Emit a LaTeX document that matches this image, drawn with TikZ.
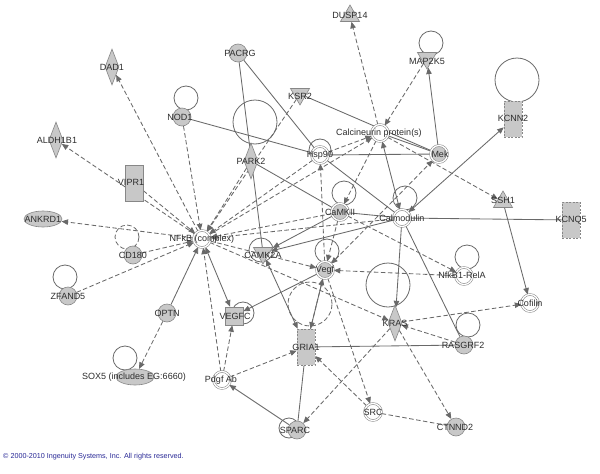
\documentclass[tikz,border=0pt]{standalone}
\usepackage{fontspec}
\setmainfont{Liberation Sans}
\usetikzlibrary{shapes.geometric,arrows.meta,backgrounds}
\definecolor{ngray}{RGB}{200,200,200}
\definecolor{bgray}{RGB}{135,135,135}
\definecolor{egray}{RGB}{105,105,105}
\definecolor{tgray}{RGB}{45,45,45}
\definecolor{cblue}{RGB}{40,40,150}
\begin{document}
\begin{tikzpicture}[x=1pt,y=-1pt,
  gfill/.style={fill=ngray,draw=bgray,line width=0.6pt,inner sep=0pt},
  circ/.style={gfill,circle,minimum size=18pt},
  dcirc/.style={circle,minimum size=17pt,inner sep=0pt,draw=bgray,line width=0.55pt,double=white,double distance=1.3pt,fill=white},
  gdcirc/.style={dcirc,fill=ngray},
  rectn/.style={gfill,rectangle,minimum width=18pt,minimum height=36pt},
  dashrect/.style={rectn,dash pattern=on 2pt off 1.5pt},
  dia/.style={gfill,diamond,minimum width=14pt,minimum height=36pt},
  tri/.style={gfill,regular polygon,regular polygon sides=3,minimum size=22pt},
  trid/.style={tri,shape border rotate=180},
  ell/.style={gfill,ellipse,minimum width=38pt,minimum height=16pt},
  lbl/.style={font=\fontsize{9}{10}\selectfont,text=tgray,inner sep=0pt},
  dedge/.style={draw=egray,line width=0.85pt},
  iedge/.style={dedge,dash pattern=on 4.5pt off 2.5pt},
  loopc/.style={draw=egray,line width=0.8pt},
  ah/.style={-{Triangle[length=6.5pt,width=5.5pt]}},
  ahb/.style={{Triangle[length=6.5pt,width=5.5pt]}-{Triangle[length=6.5pt,width=5.5pt]}},
]
\useasboundingbox (0,0) rectangle (600,474);

% ---- nodes ----
\node[tri] (dusp) at (350,16) {};
\node[trid] (mapk) at (427,58) {};
\node[dashrect] (kcnn) at (513,119) {};
\node[dashrect] (kcnq) at (571,220) {};
\node[tri] (ssh) at (503,202) {};
\node[dcirc] (cof) at (530,303) {};
\node[dia] (dad) at (112,67) {};
\node[dia] (aldh) at (56,140) {};
\node[circ] (pacrg) at (238,53) {};
\node[circ] (nod) at (182,117) {};
\node[trid] (ksr) at (300,94) {};
\node[dia] (park) at (251,161) {};
\node[rectn] (vipr) at (134,183) {};
\node[dcirc] (cal) at (380,133) {};
\node[dcirc] (hsp) at (320,155) {};
\node[gdcirc] (mek) at (439,154) {};
\node[gdcirc] (camk) at (340,212) {};
\node[dcirc] (cmod) at (402,218) {};
\node[dcirc] (nfkb) at (202,239) {};
\node[ell] (ankrd) at (43,219) {};
\node[circ] (cd) at (133,255) {};
\node[circ] (zf) at (68,296) {};
\node[trid] (camka) at (263,253) {};
\node[gdcirc] (vegf) at (325,270) {};
\node[dcirc] (rela) at (464,276) {};
\node[gfill,minimum size=18pt] (vegfc) at (234,316) {};
\node[circ] (optn) at (167,313) {};
\node[ell] (sox) at (135,377) {};
\node[dcirc] (pdgf) at (222,380) {};
\node[dashrect] (gria) at (306,347) {};
\node[dia] (kras) at (395,323) {};
\node[circ] (rasg) at (464,345) {};
\node[dcirc] (src) at (373,412) {};
\node[circ] (ctnn) at (456,427) {};
\node[circ] (sparc) at (297,430) {};

% ---- labels ----
\node[lbl] (dusp-l) at (350,15) {DUSP14};
\node[lbl] (mapk-l) at (427,61) {MAP2K5};
\node[lbl] (kcnn-l) at (513,118) {KCNN2};
\node[lbl] (kcnq-l) at (571,220) {KCNQ5};
\node[lbl] (ssh-l) at (503,200) {SSH1};
\node[lbl] (cof-l) at (530,303) {Cofilin};
\node[lbl] (dad-l) at (112,67) {DAD1};
\node[lbl] (aldh-l) at (57,140) {ALDH1B1};
\node[lbl] (pacrg-l) at (240,53) {PACRG};
\node[lbl] (nod-l) at (180,117) {NOD1};
\node[lbl] (ksr-l) at (300,96) {KSR2};
\node[lbl] (park-l) at (251,161) {PARK2};
\node[lbl] (vipr-l) at (131,182) {VIPR1};
\node[lbl] (cal-l) at (379,133) {Calcineurin protein(s)};
\node[lbl] (hsp-l) at (320,155) {Hsp90};
\node[lbl] (mek-l) at (440,154) {Mek};
\node[lbl] (camk-l) at (340,212) {CaMKII};
\node[lbl] (cmod-l) at (402,218) {Calmodulin};
\node[lbl] (nfkb-l) at (202,239) {NFkB (complex)};
\node[lbl] (ankrd-l) at (43,219) {ANKRD1};
\node[lbl] (cd-l) at (133,255) {CD180};
\node[lbl] (zf-l) at (68,296) {ZFAND5};
\node[lbl] (camka-l) at (263,255) {CAMK2A};
\node[lbl] (vegf-l) at (325,270) {Vegf};
\node[lbl] (rela-l) at (462,275) {NfkB1-RelA};
\node[lbl] (vegfc-l) at (235,316) {VEGFC};
\node[lbl] (optn-l) at (167,313) {OPTN};
\node[lbl] (sox-l) at (134,377) {SOX5 (includes EG:6660)};
\node[lbl] (pdgf-l) at (221,380) {Pdgf Ab};
\node[lbl] (gria-l) at (306,347) {GRIA1};
\node[lbl] (kras-l) at (395,323) {KRAS};
\node[lbl] (rasg-l) at (463,345) {RASGRF2};
\node[lbl] (src-l) at (373,412) {SRC};
\node[lbl] (ctnn-l) at (455,427) {CTNND2};
\node[lbl] (sparc-l) at (295,430) {SPARC};
\node[anchor=west,font=\fontsize{7.2}{8}\selectfont,text=cblue,inner sep=0pt] (copy) at (3,457) {© 2000-2010 Ingenuity Systems, Inc. All rights reserved.};

\begin{scope}[on background layer]
\fill[white] (0,0) rectangle (600,474);
% self loops
\draw[loopc] (431,43) circle[radius=12pt];
\draw[loopc] (517,80) circle[radius=22pt];
\draw[loopc] (186,98) circle[radius=12pt];
\draw[loopc] (255,122) circle[radius=22pt];
\draw[loopc] (320,150) circle[radius=11pt];
\draw[loopc] (344,193) circle[radius=12pt];
\draw[loopc] (405,198) circle[radius=12pt];
\draw[loopc,dash pattern=on 4.5pt off 2.5pt] (127,237) circle[radius=12pt];
\draw[loopc] (65,277) circle[radius=12pt];
\draw[loopc] (261,250) circle[radius=12pt];
\draw[loopc] (327,251) circle[radius=12pt];
\draw[loopc] (467,257) circle[radius=12pt];
\draw[loopc] (243,313) circle[radius=11pt];
\draw[loopc] (125,358) circle[radius=12pt];
\draw[loopc,dash pattern=on 4.5pt off 2.5pt] (310,304) circle[radius=22pt];
\draw[loopc] (388,285) circle[radius=22pt];
\draw[loopc] (468,325) circle[radius=12pt];
\draw[loopc] (289,428) circle[radius=10pt];

% indirect (dashed) edges
\draw[iedge,ah] (nfkb) -- (dad);
\draw[iedge,ah] (nfkb) -- (aldh);
\draw[iedge,ah] (nfkb) -- (ankrd);
\draw[iedge,ah] (vipr) -- (nfkb);
\draw[iedge,ah] (nod) -- (nfkb);
\draw[iedge,ah] (ksr) -- (nfkb);
\draw[iedge,ah] (park) -- (nfkb);
\draw[iedge,ah] (hsp) -- (nfkb);
\draw[iedge,ah] (nfkb) -- (cal);
\draw[iedge,ah] (camk) -- (nfkb);
\draw[iedge,ah] (cmod) -- (nfkb);
\draw[iedge,ah] (cd) -- (nfkb);
\draw[iedge,ah] (zf) -- (nfkb);
\draw[iedge,ah] (pdgf) -- (nfkb);
\draw[iedge,ah] (nfkb) -- (vegf);
\draw[iedge,ah] (nfkb) -- (kras);
\draw[iedge,ah] (cal) -- (dusp);
\draw[iedge,ah] (mapk) -- (cal);
\draw[iedge,ah] (cal) -- (camk);
\draw[iedge,ah] (cal) -- (ssh);
\draw[iedge,ah] (hsp) -- (cal);
\draw[iedge,ahb] (vegf) -- (mek);
\draw[iedge,ah] (camk) -- (vegf);
\draw[iedge,ah] (vegf) -- (hsp);
\draw[iedge,ah] (camk) -- (rela);
\draw[iedge,ah] (rela) -- (vegf);
\draw[iedge,ah] (vegf) -- (gria);
\draw[iedge,ah] (vegf) -- (src);
\draw[iedge,ah] (kras) -- (cof);
\draw[iedge,ah] (rasg) -- (kras);
\draw[iedge,ah] (kras) -- (sparc);
\draw[iedge,ah] (kras) -- (ctnn);
\draw[iedge,ah] (src) -- (gria);
\draw[iedge] (src) -- (ctnn);
\draw[iedge,ah] (pdgf) -- (vegfc);
\draw[iedge,ah] (pdgf) -- (gria);
\draw[iedge,ah] (optn) -- (sox);

% direct (solid) edges
\draw[dedge,ah] (optn) -- (nfkb);
\draw[dedge,ahb] (nfkb) -- (vegfc);
\draw[dedge] (pacrg) -- (hsp);
\draw[dedge] (pacrg) -- (camka);
\draw[dedge] (nod) -- (hsp);
\draw[dedge] (park) -- (camk);
\draw[dedge] (ksr) -- (mek);
\draw[dedge] (hsp) -- (mek);
\draw[dedge] (cal) -- (mek);
\draw[dedge] (hsp) -- (cmod);
\draw[dedge,ah] (mek) -- (mapk);
\draw[dedge,ahb] (cmod) -- (cal);
\draw[dedge,ahb] (cmod) -- (kcnn);
\draw[dedge] (cmod) -- (kcnq);
\draw[dedge] (cmod) -- (camk);
\draw[dedge,ah] (cmod) -- (camka);
\draw[dedge,ah] (camk) -- (camka);
\draw[dedge,ah] (cmod) -- (kras);
\draw[dedge] (cmod) -- (rasg);
\draw[dedge,ah] (ssh) -- (cof);
\draw[dedge] (rasg) -- (gria);
\draw[dedge,ah] (gria) -- (vegf);
\draw[dedge,ahb] (camka) -- (gria);
\draw[dedge,ah] (vegf) -- (vegfc);
\draw[dedge] (gria) -- (sparc);
\draw[dedge,ah] (sparc) -- (pdgf);
\end{scope}
\end{tikzpicture}
\end{document}
